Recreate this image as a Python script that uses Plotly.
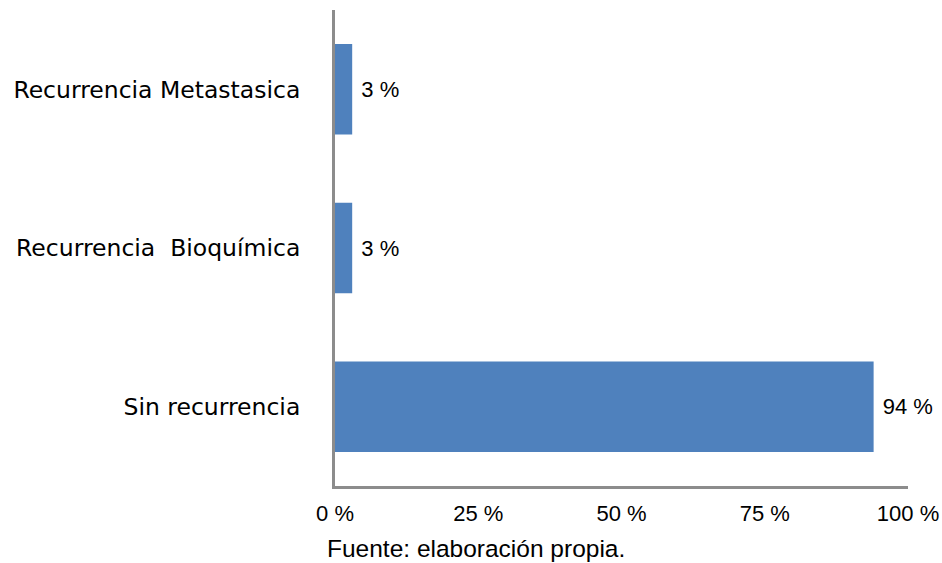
import plotly.graph_objects as go

# Categories (bottom to top) and their share of patients, in percent
categorias = ["Sin recurrencia", "Recurrencia  Bioquímica", "Recurrencia Metastasica"]
porcentajes = [94, 3, 3]

x_ticks = [0, 25, 50, 75, 100]
x_tick_labels = ["0 %", "25 %", "50 %", "75 %", "100 %"]

num_font = "Liberation Sans, Arial, sans-serif"

fig = go.Figure(
    go.Bar(
        x=porcentajes,
        y=categorias,
        orientation="h",
        marker=dict(color="#4F81BD", line=dict(width=0)),
        texttemplate=" %{x} %",
        textposition="outside",
        textfont=dict(family=num_font, size=22, color="#000000"),
        cliponaxis=False,
        width=0.57,
    )
)

fig.update_layout(
    width=942,
    height=563,
    margin=dict(l=335, r=34, t=10, b=77, autoexpand=False),
    paper_bgcolor="white",
    plot_bgcolor="white",
    showlegend=False,
    xaxis=dict(
        range=[0, 100],
        tickvals=x_ticks,
        ticktext=x_tick_labels,
        showgrid=False,
        zeroline=False,
        showline=True,
        linecolor="#8C8C8C",
        linewidth=3,
        ticks="",
        automargin=False,
        ticklabelstandoff=6,
        tickfont=dict(family=num_font, size=22, color="#000000"),
    ),
    yaxis=dict(
        showgrid=False,
        zeroline=False,
        showline=True,
        linecolor="#8C8C8C",
        linewidth=3,
        ticks="",
        automargin=False,
        ticklabelstandoff=27,
        tickfont=dict(family="DejaVu Sans, Verdana, sans-serif", size=23.5, color="#000000"),
    ),
    annotations=[
        dict(
            text="Fuente: elaboración propia.",
            xref="paper",
            yref="paper",
            x=-0.018,
            y=-0.1315,
            xanchor="left",
            yanchor="middle",
            showarrow=False,
            font=dict(family="Liberation Sans, Arial, sans-serif", size=24.5, color="#000000"),
        )
    ],
)

fig.write_html("out.html")
